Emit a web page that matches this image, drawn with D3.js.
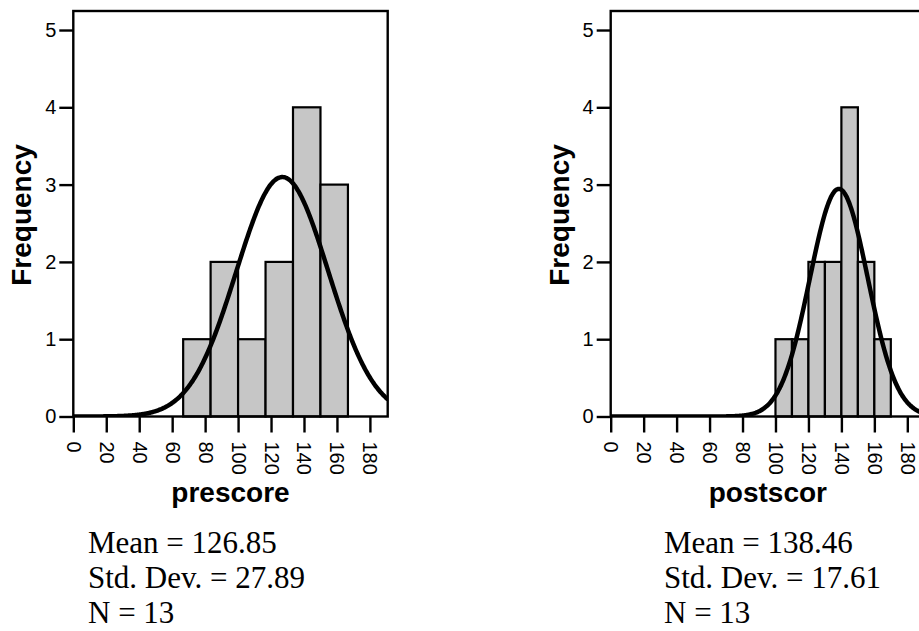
<!DOCTYPE html>
<html>
<head>
<meta charset="utf-8">
<script src="https://cdn.jsdelivr.net/npm/d3@7"></script>
<style>
  html, body { margin: 0; padding: 0; background: #fff; }
  svg { display: block; }
</style>
</head>
<body>
<svg id="chart" width="919" height="631"></svg>
<script>
// Histogram bins (edges) and frequencies for each variable
const prescoreEdges = [66.67, 83.33, 100, 116.67, 133.33, 150, 166.67];
const prescoreCounts = [1, 2, 1, 2, 4, 3];
const postscorEdges = [100, 110, 120, 130, 140, 150, 160, 170];
const postscorCounts = [1, 1, 2, 2, 4, 2, 1];

// Summary statistics printed under each histogram
const prescoreStats = { mean: 126.85, sd: 27.89, n: 13 };
const postscorStats = { mean: 138.46, sd: 17.61, n: 13 };

// Axis ticks
const xTicks = [0, 20, 40, 60, 80, 100, 120, 140, 160, 180];
const yTicks = [0, 1, 2, 3, 4, 5];

const svg = d3.select("#chart");

const plotTop = 11, plotBottom = 416.5, plotWidth = 314.4;
const xMax = 190.8, yMax = 5.246;

const panels = [
  { name: "prescore", left: 73.3, edges: prescoreEdges, counts: prescoreCounts, stats: prescoreStats, statsX: 88 },
  { name: "postscor", left: 610.7, edges: postscorEdges, counts: postscorCounts, stats: postscorStats, statsX: 664 }
];

panels.forEach((p, idx) => {
  const x = d3.scaleLinear().domain([0, xMax]).range([p.left, p.left + plotWidth]);
  const y = d3.scaleLinear().domain([0, yMax]).range([plotBottom, plotTop]);
  const g = svg.append("g");

  const clipId = "clip" + idx;
  svg.append("clipPath").attr("id", clipId)
    .append("rect")
    .attr("x", p.left).attr("y", plotTop)
    .attr("width", plotWidth).attr("height", plotBottom - plotTop);

  // bars
  const bins = p.counts.map((c, i) => ({ x0: p.edges[i], x1: p.edges[i + 1], count: c }));
  g.append("g").selectAll("rect").data(bins).join("rect")
    .attr("x", d => x(d.x0))
    .attr("y", d => y(d.count))
    .attr("width", d => x(d.x1) - x(d.x0))
    .attr("height", d => y(0) - y(d.count))
    .attr("fill", "#c6c6c6")
    .attr("stroke", "#000")
    .attr("stroke-width", 2.2);

  // fitted normal curve, scaled to counts per bin
  const binWidth = p.edges[1] - p.edges[0];
  const k = p.stats.n * binWidth / (p.stats.sd * Math.sqrt(2 * Math.PI));
  const density = v => k * Math.exp(-0.5 * Math.pow((v - p.stats.mean) / p.stats.sd, 2));
  const samples = d3.range(0, xMax + 0.5, 0.5);
  g.append("path")
    .datum(samples)
    .attr("clip-path", `url(#${clipId})`)
    .attr("fill", "none")
    .attr("stroke", "#000")
    .attr("stroke-width", 4.5)
    .attr("stroke-linejoin", "round")
    .attr("d", d3.line().x(v => x(v)).y(v => y(density(v))).curve(d3.curveBasis));

  // frame
  g.append("rect")
    .attr("x", p.left).attr("y", plotTop)
    .attr("width", plotWidth).attr("height", plotBottom - plotTop)
    .attr("fill", "none").attr("stroke", "#000").attr("stroke-width", 2.4);

  // y axis
  const yAxis = g.append("g")
    .attr("transform", `translate(${p.left},0)`)
    .call(d3.axisLeft(y).tickValues(yTicks).tickSize(14).tickPadding(3).tickFormat(d3.format("d")));
  yAxis.select(".domain").remove();
  yAxis.selectAll(".tick line").attr("stroke", "#000").attr("stroke-width", 2.4);
  yAxis.selectAll(".tick text")
    .attr("fill", "#000")
    .style("font-family", "'Liberation Sans', Arial, sans-serif")
    .style("font-size", "20px");

  // x axis with rotated tick labels
  const xAxis = g.append("g")
    .attr("transform", `translate(0,${plotBottom})`)
    .call(d3.axisBottom(x).tickValues(xTicks).tickSize(16).tickFormat(d3.format("d")));
  xAxis.select(".domain").remove();
  xAxis.selectAll(".tick line").attr("stroke", "#000").attr("stroke-width", 2.4);
  xAxis.selectAll(".tick text")
    .attr("fill", "#000")
    .attr("x", 25).attr("y", 0).attr("dy", "0.35em")
    .attr("transform", "rotate(90)")
    .style("text-anchor", "start")
    .style("font-family", "'Liberation Sans', Arial, sans-serif")
    .style("font-size", "20px");

  // axis titles
  g.append("text")
    .attr("transform", `translate(${p.left - 42},215) rotate(-90)`)
    .attr("text-anchor", "middle")
    .style("font-family", "'Liberation Sans', Arial, sans-serif")
    .style("font-size", "28px")
    .style("font-weight", "bold")
    .text("Frequency");

  g.append("text")
    .attr("x", p.left + plotWidth / 2).attr("y", 502)
    .attr("text-anchor", "middle")
    .style("font-family", "'Liberation Sans', Arial, sans-serif")
    .style("font-size", "28px")
    .style("font-weight", "bold")
    .text(p.name);

  // statistics block
  const lines = [
    `Mean = ${p.stats.mean.toFixed(2)}`,
    `Std. Dev. = ${p.stats.sd.toFixed(2)}`,
    `N = ${p.stats.n}`
  ];
  g.append("g").selectAll("text").data(lines).join("text")
    .attr("x", p.statsX)
    .attr("y", (d, i) => 553 + i * 35)
    .style("font-family", "'Liberation Serif', 'Times New Roman', serif")
    .style("font-size", "31px")
    .attr("fill", "#000")
    .text(d => d);
});
</script>
</body>
</html>
